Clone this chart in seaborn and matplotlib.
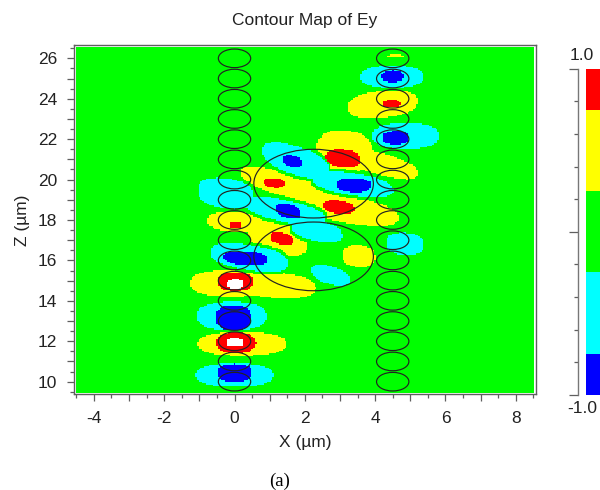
import numpy as np
import pandas as pd
import matplotlib
matplotlib.use("Agg")
import matplotlib.pyplot as plt
from matplotlib.colors import ListedColormap, BoundaryNorm
from matplotlib.patches import Circle
from matplotlib.ticker import MultipleLocator
import seaborn as sns

# ----- data -----
title = "Contour Map of Ey"
x_label = "X (\u00b5m)"
z_label = "Z (\u00b5m)"
caption = "(a)"
x_ticks = [-4, -3, -2, -1, 0, 1, 2, 3, 4, 5, 6, 7, 8]
x_tick_labels = ["-4", "", "-2", "", "0", "", "2", "", "4", "", "6", "", "8"]
z_ticks = list(range(10, 27))
z_tick_labels = [str(v) if v % 2 == 0 else "" for v in z_ticks]

level_bounds = [-1.0, -0.75, -0.25, 0.25, 0.75, 1.0, 1.2]
level_colors = ["#0000ff", "#00ffff", "#00ff00", "#ffff00", "#ff0000", "#ffffff"]
bar_bounds = [-1.0, -0.75, -0.25, 0.25, 0.75, 1.0]
bar_colors = ["#0000ff", "#00ffff", "#00ff00", "#ffff00", "#ff0000"]

guide_z = list(range(10, 27))
guide_left_x = 0.0
guide_right_x = 4.5
guide_r = 0.46
ring_x = [2.25, 2.25]
ring_z = [19.8, 16.2]
ring_r = 1.7

# lobes of the Ey map: level, centre x, centre z, half width, half height, tilt (dz/dx)
Y, C, R, B, W = 0.5, -0.5, 0.9, -0.9, 1.05
lobe_level = [
    C, C, C, Y, Y, C, C, Y, Y, Y, Y, Y, Y, C, C, C, C, C, Y, C,
    C, Y, Y, C,
    B, Y, R, W, B, R, W, B, R, R, R, R, R, B, B, B, B, R, B,
]
lobe_x = [
    -0.02, -0.10, 0.40, 0.19, -0.07, 0.40, 4.47, 4.54, 4.19, 3.11, 4.08, 1.43, 3.14, 1.72, 3.34, -0.27, 1.43, 2.32, 3.52, 2.71,
    4.86, 0.00, 1.21, 4.83,
    -0.02, 1.18, 0.02, -0.02, -0.06, 0.00, -0.01, 0.30, 0.00, 1.32, 3.07, 2.95, 1.11, 1.62, 3.38, 1.51, 4.48, 4.44, 4.56,
]
lobe_z = [
    10.32, 13.25, 16.14, 11.86, 14.87, 16.14, 25.11, 26.13, 23.74, 21.41, 20.82, 19.77, 18.55, 20.96, 19.78, 19.33, 18.44, 17.46, 16.21, 15.27,
    22.17, 17.90, 17.09, 16.82,
    10.41, 14.75, 11.91, 11.92, 13.17, 14.94, 14.84, 16.11, 17.75, 17.08, 21.07, 18.65, 19.85, 20.92, 19.74, 18.45, 25.13, 23.79, 22.09,
]
lobe_a = [
    1.11, 1.00, 1.12, 1.27, 1.22, 1.12, 0.90, 0.26, 1.00, 0.80, 1.12, 1.30, 1.50, 0.95, 1.15, 0.80, 1.15, 0.72, 0.47, 0.55,
    0.96, 0.79, 0.85, 0.55,
    0.50, 1.10, 0.56, 0.25, 0.50, 0.51, 0.24, 0.63, 0.17, 0.34, 0.50, 0.45, 0.30, 0.29, 0.49, 0.37, 0.32, 0.26, 0.37,
]
lobe_b = [
    0.57, 0.70, 0.62, 0.59, 0.66, 0.62, 0.55, 0.07, 0.66, 1.04, 0.55, 0.60, 0.68, 0.72, 0.55, 0.74, 0.55, 0.50, 0.54, 0.45,
    0.63, 0.50, 0.75, 0.55,
    0.45, 0.62, 0.51, 0.22, 0.62, 0.45, 0.23, 0.33, 0.16, 0.30, 0.44, 0.33, 0.24, 0.29, 0.35, 0.34, 0.29, 0.18, 0.33,
]
lobe_tilt = [
    0.0, 0.0, -0.26, 0.0, 0.0, -0.26, 0.0, 0.0, 0.15, -0.1, -0.45, -0.45, -0.30, -0.5, -0.25, -0.2, -0.35, -0.30, -0.1, -0.45,
    0.0, -0.1, -0.4, -0.1,
    0.0, -0.1, 0.0, 0.0, 0.0, 0.0, 0.0, -0.1, 0.0, -0.35, -0.15, -0.2, -0.15, -0.3, -0.05, -0.35, 0.0, 0.0, 0.0,
]

# ----- grid -----
xs = np.arange(-4.52, 8.52, 0.05)
zs = np.arange(26.54, 9.43, -0.07)
gx, gz = np.meshgrid(xs, zs)


def lobe_mask(i):
    dx = gx - lobe_x[i]
    dz = gz - lobe_z[i] - lobe_tilt[i] * dx
    return np.abs(dx / lobe_a[i]) ** 2.4 + np.abs(dz / lobe_b[i]) ** 2.4 <= 1.0


yellow = np.zeros_like(gx, dtype=bool)
cyan = np.zeros_like(gx, dtype=bool)
for i, lev in enumerate(lobe_level):
    if lev == Y:
        yellow |= lobe_mask(i)
    elif lev == C:
        cyan |= lobe_mask(i)
near_cyan = cyan.copy()
for sx in range(-1, 2):
    for sz in range(-2, 3):
        near_cyan |= np.roll(np.roll(cyan, sx, axis=1), sz, axis=0)
field = np.zeros_like(gx)
field[yellow & ~near_cyan] = Y
field[cyan] = C
for strong in (R, B, W):
    for i, lev in enumerate(lobe_level):
        if lev == strong:
            field[lobe_mask(i)] = lev
field_df = pd.DataFrame(field, index=np.round(zs, 2), columns=np.round(xs, 2))

# ----- figure -----
sns.set_theme(style="ticks")
plt.rcParams["font.family"] = ["Liberation Sans", "DejaVu Sans"]
W_PX, H_PX = 600, 490
fig = plt.figure(figsize=(W_PX / 100, H_PX / 100), dpi=100, facecolor="white")


def rect(l, t, r, b):
    return [l / W_PX, 1 - b / H_PX, (r - l) / W_PX, (b - t) / H_PX]


cmap = ListedColormap(level_colors)
norm = BoundaryNorm(level_bounds, cmap.N)

ax_bg = fig.add_axes(rect(75.7, 47.3, 534, 393))
sns.heatmap(field_df, ax=ax_bg, cmap=cmap, norm=norm, cbar=False,
            xticklabels=False, yticklabels=False)
ax_bg.set_xlabel("")
ax_bg.set_ylabel("")
ax_bg.axis("off")

ax = fig.add_axes(rect(73.5, 45, 536.5, 394))
ax.patch.set_alpha(0)
ax.set_xlim(-4.58, 8.59)
ax.set_ylim(9.39, 26.66)
ink = "#222222"
grey = "#5f5f5f"
for z in guide_z:
    for cx in (guide_left_x, guide_right_x):
        ax.add_patch(Circle((cx, z), guide_r, fill=False, ec=ink, lw=0.85))
for cx, cz in zip(ring_x, ring_z):
    ax.add_patch(Circle((cx, cz), ring_r, fill=False, ec=ink, lw=0.85))
for s in ax.spines.values():
    s.set_color(grey)
    s.set_linewidth(1.0)
ax.set_xticks(x_ticks, x_tick_labels)
ax.set_yticks(z_ticks, z_tick_labels)
ax.xaxis.set_minor_locator(MultipleLocator(0.5))
ax.yaxis.set_minor_locator(MultipleLocator(0.5))
ax.tick_params(which="major", length=5.2, width=0.9, color=grey, labelsize=12.5,
               labelcolor=ink)
ax.tick_params(axis="x", which="major", pad=7)
ax.tick_params(axis="y", which="major", pad=6.5)
ax.tick_params(which="minor", length=3, width=0.9, color=grey)
fig.text(305 / W_PX, 1 - 20 / H_PX, title, ha="center", va="center", fontsize=12.5, color=ink)
fig.text(305 / W_PX, 1 - 443 / H_PX, x_label, ha="center", va="center", fontsize=12.5, color=ink)
fig.text(22 / W_PX, 1 - 220 / H_PX, z_label, ha="center", va="center", rotation=90, fontsize=12.5, color=ink)
fig.text(280 / W_PX, 1 - 481 / H_PX, caption, ha="center", va="center", fontsize=13.5,
         color="black", family=["Liberation Serif", "DejaVu Serif"])

# colour bar
bar_values = np.linspace(0.999, -0.999, 327).reshape(-1, 1)
bar_cmap = ListedColormap(bar_colors)
bar_norm = BoundaryNorm(bar_bounds, bar_cmap.N)
ax_bar = fig.add_axes(rect(586, 68.7, 600, 395))
sns.heatmap(bar_values, ax=ax_bar, cmap=bar_cmap, norm=bar_norm, cbar=False,
            xticklabels=False, yticklabels=False)
ax_bar.axis("off")

ax_scale = fig.add_axes(rect(577.7, 68.7, 580, 395))
ax_scale.patch.set_alpha(0)
ax_scale.set_ylim(-1, 1)
ax_scale.set_xticks([])
for side in ("top", "right", "bottom"):
    ax_scale.spines[side].set_visible(False)
ax_scale.spines["left"].set_color("#777777")
ax_scale.spines["left"].set_linewidth(1.0)
ax_scale.set_yticks([-1, 0, 1], ["", "", ""])
ax_scale.yaxis.set_minor_locator(MultipleLocator(0.2))
ax_scale.tick_params(axis="y", which="major", length=6.2, width=0.9, color=grey)
ax_scale.tick_params(axis="y", which="minor", length=3, width=0.9, color=grey)
fig.text(582 / W_PX, 1 - 55 / H_PX, "1.0", ha="center", va="center", fontsize=12.5, color=ink)
fig.text(582 / W_PX, 1 - 408.5 / H_PX, "-1.0", ha="center", va="center", fontsize=12.5, color=ink)

fig.savefig("out.png", dpi=100)
